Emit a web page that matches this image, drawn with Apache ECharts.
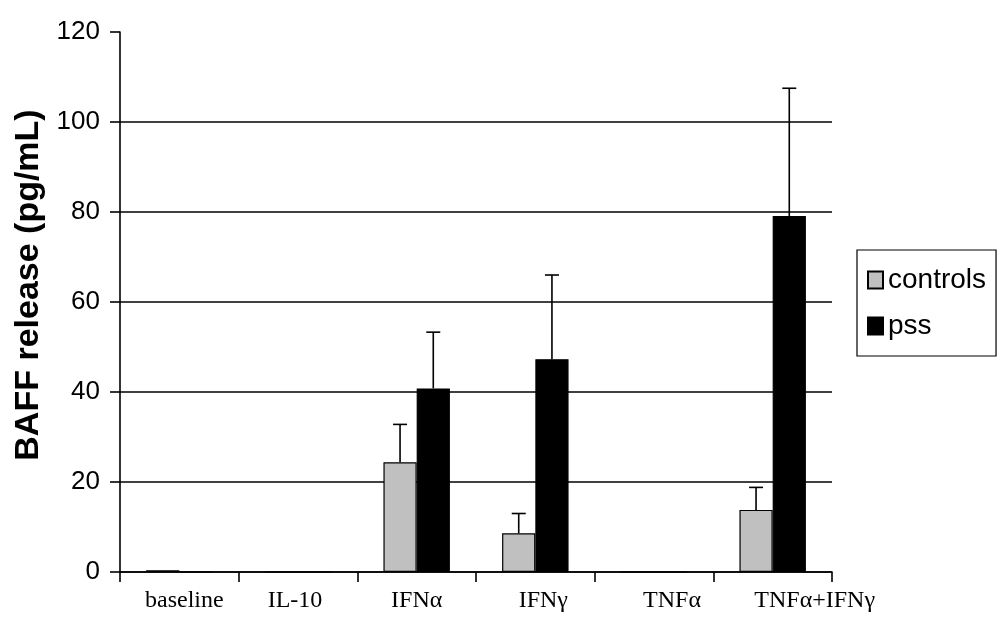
<!DOCTYPE html>
<html>
<head>
<meta charset="utf-8">
<script src="https://cdn.jsdelivr.net/npm/echarts@6/dist/echarts.min.js"></script>
<style>
    html, body { margin: 0; padding: 0; background: #fff; }
    #chart { width: 1004px; height: 630px; }
</style>
</head>
<body>
<div id="chart"></div>
<script>
// 数据
var categories = ['baseline', 'IL-10', 'IFNα', 'IFNγ', 'TNFα', 'TNFα+IFNγ'];
var controls = [0.4, 0, 24.4, 8.6, 0, 13.8];
var pss = [0, 0, 40.8, 47.3, 0, 79.1];
// error bar tops (mean + SD)
var controlsErr = [null, null, 32.8, 13, null, 18.8];
var pssErr = [null, null, 53.3, 66, null, 107.5];
var yTicks = [0, 20, 40, 60, 80, 100, 120];

var catGap = 0.44;
// label shift in the original figure (px, to the right)
var labelShift = [5, -3, 0, 8, 18, 42];

var myChart = echarts.init(document.querySelector('#chart'));

// 误差线
function errorSeries(name, means, tops, side) {
    var data = [];
    for (var i = 0; i < categories.length; i++) {
        if (tops[i] != null) data.push([i, means[i], tops[i]]);
    }
    return {
        type: 'custom',
        name: name + ' err',
        data: data,
        z: 5,
        silent: true,
        renderItem: function (params, api) {
            var base = api.coord([api.value(0), api.value(1)]);
            var high = api.coord([api.value(0), api.value(2)]);
            var catW = api.size([1, 0])[0];
            var bw = catW * (1 - catGap) / 2;
            var x = base[0] + side * bw / 2;
            var style = { stroke: '#000', lineWidth: 1.6 };
            return {
                type: 'group',
                children: [
                    { type: 'line', shape: { x1: x, y1: base[1], x2: x, y2: high[1] }, style: style },
                    { type: 'line', shape: { x1: x - 7, y1: high[1], x2: x + 7, y2: high[1] }, style: style }
                ]
            };
        }
    };
}

var labelRich = {};
for (var i = 0; i < labelShift.length; i++) {
    var s = labelShift[i] * 2;
    labelRich['c' + i] = {
        fontFamily: 'Liberation Serif, Times New Roman, serif',
        fontSize: 24,
        color: '#000',
        padding: s >= 0 ? [0, 0, 0, s] : [0, -s, 0, 0]
    };
}

var option = {
    backgroundColor: '#fff',
    animation: false,
    grid: {
        left: 120,
        right: 172,
        top: 32,
        bottom: 58
    },
    legend: {
        data: ['controls', 'pss'],
        orient: 'vertical',
        left: 857,
        top: 250,
        padding: [16, 10, 16, 10],
        itemWidth: 15,
        itemHeight: 17,
        itemGap: 18,
        borderColor: '#000',
        borderWidth: 1.2,
        icon: 'rect',
        textStyle: {
            fontFamily: 'Liberation Sans, Arial, sans-serif',
            fontSize: 28,
            color: '#000'
        }
    },
    xAxis: {
        type: 'category',
        data: categories,
        axisLine: { lineStyle: { color: '#000', width: 1.6 } },
        axisTick: { show: true, length: 10, lineStyle: { color: '#000', width: 1.6 } },
        axisLabel: {
            margin: 17,
            interval: 0,
            formatter: function (v, idx) {
                return '{c' + idx + '|' + v + '}';
            },
            rich: labelRich
        }
    },
    yAxis: {
        type: 'value',
        min: 0,
        max: 120,
        interval: 20,
        name: 'BAFF release (pg/mL)',
        nameLocation: 'middle',
        nameGap: 72,
        nameTextStyle: {
            color: '#000',
            fontFamily: 'Liberation Sans, Arial, sans-serif',
            fontWeight: 'bold',
            fontSize: 34,
            padding: [0, 0, 0, 34]
        },
        axisLine: { show: true, lineStyle: { color: '#000', width: 1.6 } },
        axisTick: { show: true, length: 10, lineStyle: { color: '#000', width: 1.6 } },
        axisLabel: {
            margin: 20,
            color: '#000',
            fontFamily: 'Liberation Sans, Arial, sans-serif',
            fontSize: 26,
            formatter: function (v) {
                return yTicks.indexOf(v) >= 0 ? v : '';
            }
        },
        splitLine: {
            show: true,
            showMaxLine: false,
            lineStyle: { color: '#000', width: 1.6 }
        }
    },
    series: [
        {
            name: 'controls',
            type: 'bar',
            data: controls,
            barGap: '0%',
            barCategoryGap: (catGap * 100) + '%',
            itemStyle: { color: '#c0c0c0', borderColor: '#000', borderWidth: 1.2 }
        },
        {
            name: 'pss',
            type: 'bar',
            data: pss,
            barGap: '0%',
            barCategoryGap: (catGap * 100) + '%',
            itemStyle: { color: '#000', borderColor: '#000', borderWidth: 1.2 }
        },
        errorSeries('controls', controls, controlsErr, -1),
        errorSeries('pss', pss, pssErr, 1)
    ]
};
myChart.setOption(option);
</script>
</body>
</html>
